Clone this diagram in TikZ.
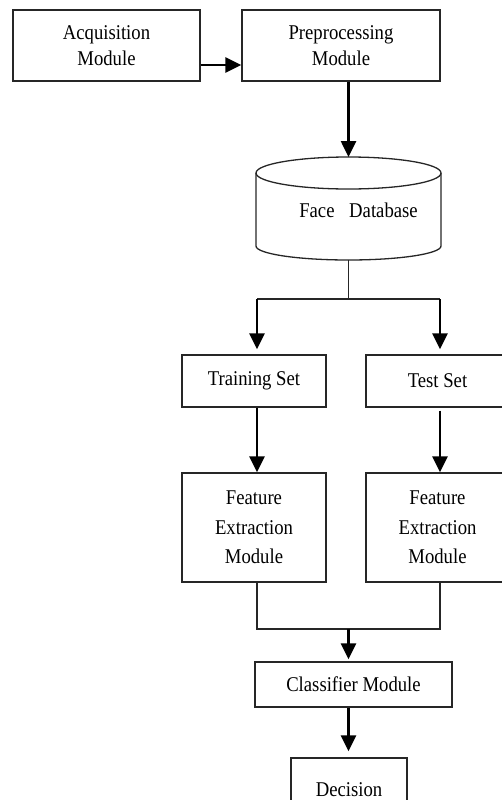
\documentclass[tikz,border=0pt]{standalone}
\usepackage{fontspec}
\setmainfont[FakeStretch=0.89]{Liberation Serif}
\usetikzlibrary{arrows.meta,calc}
\begin{document}
\begin{tikzpicture}[x=1pt,y=-1pt,
  box/.style={draw=black!85, line width=1.3pt, inner sep=0pt, align=center,
    font=\fontsize{21}{25.5}\selectfont},
  tallbox/.style={box, font=\fontsize{21}{29.5}\selectfont},
  txt/.style={inner sep=0pt, font=\fontsize{21}{25}\selectfont},
  arr/.style={line width=2.6pt, -{Triangle[length=16pt,width=15pt]}},
  thinline/.style={line width=1.3pt, draw=black!85}]
\useasboundingbox (0,0) rectangle (501,800);

% top row
\node[box, minimum width=187pt, minimum height=71pt] (acq) at (106.5,45.5) {Acquisition\\Module};
\node[box, minimum width=198pt, minimum height=71pt] (pre) at (341,45.5) {Preprocessing\\Module};

% database cylinder
\coordinate (dbtop) at (348.5,157);
\coordinate (dbbot) at (348.5,260);
\draw[thinline] (348.5,173) ellipse [x radius=92.5pt, y radius=16pt];
\draw[thinline] (256,173) -- (256,246)
  arc[start angle=180, end angle=360, x radius=92.5pt, y radius=14pt] -- (441,173);
\node[txt] (db) at (358.5,210) {Face\hspace{10pt} Database};

% sets
\node[box, minimum width=144pt, minimum height=52pt] (train) at (254,381) {Training Set};
\node[box, minimum width=143pt, minimum height=52pt] (test) at (437.5,381) {Test Set};
\node[tallbox, minimum width=144pt, minimum height=109pt] (feat1) at (254,527.5) {Feature\\Extraction\\Module};
\node[tallbox, minimum width=143pt, minimum height=109pt] (feat2) at (437.5,527.5) {Feature\\Extraction\\Module};
\node[box, minimum width=197pt, minimum height=45pt] (cls) at (353.5,684.5) {Classifier Module};
\node[box, minimum width=116pt, minimum height=64pt] (dec) at (349,790) {Decision};

% connectors
\draw[arr] (acq.east |- 0,65) -- (pre.west |- 0,65);
\draw[arr] (pre.south -| dbtop) -- (dbtop);

\coordinate (split) at (348.5,299);
\coordinate (sl) at (257,299);
\coordinate (sr) at (440,299);
\draw[thinline] (dbbot) -- (split);
\draw[thinline] (sl) -- (sr);
\draw[arr] (sl) -- ([yshift=5pt]train.north -| sl);
\draw[arr] (sr) -- ([yshift=5pt]test.north -| sr);

\draw[arr] (train.south -| sl) -- (feat1.north -| sl);
\draw[arr] ([yshift=-3pt]test.south -| sr) -- (feat2.north -| sr);

\coordinate (jl) at (257,629);
\coordinate (jr) at (440,629);
\coordinate (jm) at (348.5,629);
\draw[thinline] (feat1.south -| jl) -- (jl) -- (jr) -- (feat2.south -| jr);
\draw[arr] (jm) -- ([yshift=2pt]cls.north -| jm);
\draw[arr] (cls.south -| jm) -- ([yshift=6pt]dec.north -| jm);
\end{tikzpicture}
\end{document}
